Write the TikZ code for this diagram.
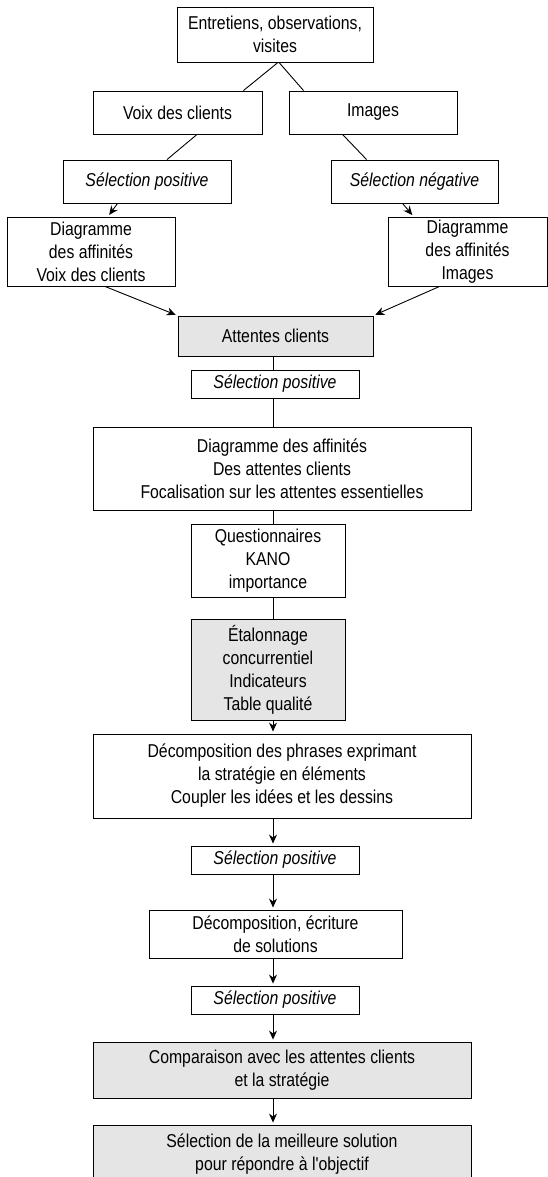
\documentclass[tikz,border=0pt]{standalone}
\usepackage{fontspec}
\setmainfont{Liberation Sans}[FakeStretch=0.85, Ligatures=TeXOff]
\usetikzlibrary{arrows.meta,calc}

\begin{document}
\begin{tikzpicture}[x=1pt,y=-1pt,
  box/.style={draw, line width=0.9pt, inner sep=0pt, align=center,
    font=\fontsize{18.6}{23}\selectfont},
  shaded/.style={box, fill=black!10},
  pick/.style={box, font=\fontsize{18.6}{23}\selectfont\itshape},
  link/.style={line width=0.9pt},
  flow/.style={link, -{Stealth[length=9pt,width=8pt]}, shorten >=2pt}
]
\fill[white] (0,0) rectangle (548,1177);
\clip (0,0) rectangle (548,1177);

% sources and the two branches
\node[box, minimum width=196pt, minimum height=55pt] (top) at (275,34.5)
  {Entretiens, observations,\\visites};
\node[box, minimum width=169pt, minimum height=43pt] (voix) at (177.5,112.5)
  {Voix des clients};
\node[box, minimum width=168pt, minimum height=43pt] (images) at (373,112.5)
  {Images};
\node[pick, minimum width=168pt, minimum height=43pt] (selpos1) at (147,181.5)
  {Sélection positive};
\node[pick, minimum width=167pt, minimum height=43pt] (selneg) at (414.5,181.5)
  {Sélection négative};
\node[box, minimum width=168pt, minimum height=69pt] (diagvoix) at (91,251.5)
  {Diagramme\\des affinités\\Voix des clients};
\node[box, minimum width=159pt, minimum height=69pt] (diagimg) at (467.5,251.5)
  {Diagramme\\des affinités\\Images};

% main chain
\node[shaded, minimum width=195pt, minimum height=40pt] (attentes) at (275.5,336)
  {Attentes clients};
\node[pick, minimum width=168pt, minimum height=28pt] (selpos2) at (275,384)
  {Sélection positive};
\node[box, minimum width=378pt, minimum height=83pt] (diagatt) at (282,468.5)
  {Diagramme des affinités\\Des attentes clients\\Focalisation sur les attentes essentielles};
\node[box, minimum width=154pt, minimum height=73pt] (quest) at (268,560.5)
  {Questionnaires\\KANO\\importance};
\node[shaded, minimum width=154pt, minimum height=101pt] (etal) at (268,669.5)
  {Étalonnage\\concurrentiel\\Indicateurs\\Table qualité};
\node[box, minimum width=378pt, minimum height=84pt] (decomp) at (282,776)
  {Décomposition des phrases exprimant\\la stratégie en éléments\\Coupler les idées et les dessins};
\node[pick, minimum width=168pt, minimum height=28pt] (selpos3) at (275,860)
  {Sélection positive};
\node[box, minimum width=253pt, minimum height=48pt] (dececr) at (275.5,934)
  {Décomposition, écriture\\de solutions};
\node[pick, minimum width=168pt, minimum height=28pt] (selpos4) at (275,1000)
  {Sélection positive};
\node[shaded, minimum width=378pt, minimum height=56pt] (compar) at (282,1070)
  {Comparaison avec les attentes clients\\et la stratégie};
\node[shaded, minimum width=378pt, minimum height=58pt] (meill) at (282,1154)
  {Sélection de la meilleure solution\\pour répondre à l'objectif};

% branch connectors
\draw[link] ([xshift=3pt]top.south) -- ([xshift=-19pt]voix.north east);
\draw[link] ([xshift=4pt]top.south) -- ([xshift=15pt]images.north west);
\draw[link] ([xshift=19.5pt]voix.south) -- ([xshift=20pt]selpos1.north);
\draw[link] ([xshift=54pt]images.south west) -- ([xshift=36pt]selneg.north west);
\draw[flow] ([xshift=55pt]selpos1.south west) -- ([xshift=17pt]diagvoix.north);
\draw[flow] ([xshift=72pt]selneg.south west) -- ([xshift=26pt]diagimg.north west);
\draw[flow] ([xshift=14pt]diagvoix.south) -- (attentes.north west);
\draw[flow] ([xshift=52pt]diagimg.south west) -- (attentes.north east);

% vertical spine
\coordinate (spine) at (273,0);
\draw[link] (attentes.south -| spine) -- (selpos2.north -| spine);
\draw[link] (selpos2.south -| spine) -- (diagatt.north -| spine);
\draw[link] (diagatt.south -| spine) -- (quest.north -| spine);
\draw[link] (quest.south -| spine) -- (etal.north -| spine);
\draw[flow] (etal.south -| spine) -- (decomp.north -| spine);
\draw[flow] (decomp.south -| spine) -- (selpos3.north -| spine);
\draw[flow] (selpos3.south -| spine) -- (dececr.north -| spine);
\draw[flow] (dececr.south -| spine) -- (selpos4.north -| spine);
\draw[flow] (selpos4.south -| spine) -- (compar.north -| spine);
\draw[flow] (compar.south -| spine) -- (meill.north -| spine);
\end{tikzpicture}
\end{document}
